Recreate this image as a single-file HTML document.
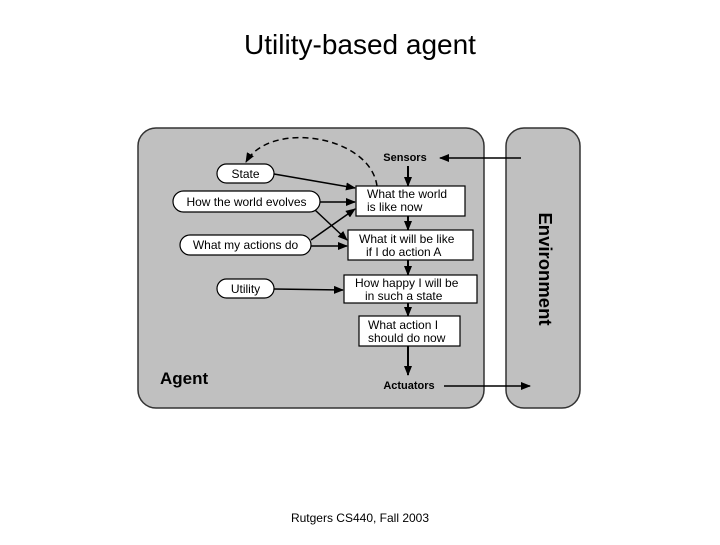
<!DOCTYPE html>
<html><head><style>
body{margin:0;background:#fff;}
svg text{font-family:"Liberation Sans",sans-serif;}
</style></head><body>
<svg width="720" height="540" viewBox="0 0 720 540" xmlns="http://www.w3.org/2000/svg">
<defs><marker id="a" markerWidth="10" markerHeight="8" refX="9" refY="4" orient="auto" markerUnits="userSpaceOnUse"><path d="M0,0 L10,4 L0,8 z" fill="#000"/></marker></defs>
<text x="360" y="54" font-size="28" text-anchor="middle">Utility-based agent</text>
<rect x="138" y="128" width="346" height="280" rx="18" fill="#c0c0c0" stroke="#333" stroke-width="1.5"/>
<rect x="506" y="128" width="74" height="280" rx="18" fill="#c0c0c0" stroke="#333" stroke-width="1.5"/>
<text transform="translate(539,269) rotate(90)" font-size="18.5" font-weight="bold" text-anchor="middle">Environment</text>
<text x="160" y="384" font-size="17" font-weight="bold">Agent</text>
<text x="405" y="161" font-size="11" font-weight="bold" text-anchor="middle">Sensors</text>
<text x="409" y="389" font-size="11" font-weight="bold" text-anchor="middle">Actuators</text>
<g stroke="#000" stroke-width="1.5" fill="none">
<line x1="521" y1="158" x2="440" y2="158" marker-end="url(#a)"/>
<line x1="444" y1="386" x2="530" y2="386" marker-end="url(#a)"/>
<path d="M377,186 C370,135 270,120 246,162" stroke-dasharray="6,4" marker-end="url(#a)"/>
<line x1="408" y1="166" x2="408" y2="186" stroke-width="2" marker-end="url(#a)"/>
<line x1="408" y1="216" x2="408" y2="230" stroke-width="2" marker-end="url(#a)"/>
<line x1="408" y1="260" x2="408" y2="275" stroke-width="2" marker-end="url(#a)"/>
<line x1="408" y1="303" x2="408" y2="316" stroke-width="2" marker-end="url(#a)"/>
<line x1="408" y1="346" x2="408" y2="375" stroke-width="2" marker-end="url(#a)"/>
<line x1="274" y1="174" x2="355" y2="188" marker-end="url(#a)"/>
<line x1="320" y1="202" x2="355" y2="202" marker-end="url(#a)"/>
<line x1="315" y1="210" x2="347" y2="240" marker-end="url(#a)"/>
<line x1="311" y1="240" x2="355" y2="209" marker-end="url(#a)"/>
<line x1="311" y1="246" x2="347" y2="246" marker-end="url(#a)"/>
<line x1="274" y1="289" x2="343" y2="290" marker-end="url(#a)"/>
</g>
<g fill="#fff" stroke="#000" stroke-width="1.2">
<rect x="217" y="164" width="57" height="19" rx="9.5"/>
<rect x="173" y="191" width="147" height="21" rx="10.5"/>
<rect x="180" y="235" width="131" height="20" rx="10"/>
<rect x="217" y="279" width="57" height="19" rx="9.5"/>
<rect x="356" y="186" width="109" height="30"/>
<rect x="348" y="230" width="125" height="30"/>
<rect x="344" y="275" width="133" height="28"/>
<rect x="359" y="316" width="101" height="30"/>
</g>
<g font-size="12" fill="#000">
<text x="245.5" y="178" text-anchor="middle">State</text>
<text x="246.5" y="206" text-anchor="middle">How the world evolves</text>
<text x="245.5" y="249" text-anchor="middle">What my actions do</text>
<text x="245.5" y="293" text-anchor="middle">Utility</text>
<text x="367" y="198">What the world</text>
<text x="367" y="211">is like now</text>
<text x="359" y="243">What it will be like</text>
<text x="366" y="256">if I do action A</text>
<text x="355" y="287">How happy I will be</text>
<text x="365" y="300">in such a state</text>
<text x="368" y="329">What action I</text>
<text x="368" y="342">should do now</text>
</g>
<text x="360" y="522" font-size="12" text-anchor="middle">Rutgers CS440, Fall 2003</text>
</svg>
</body></html>
